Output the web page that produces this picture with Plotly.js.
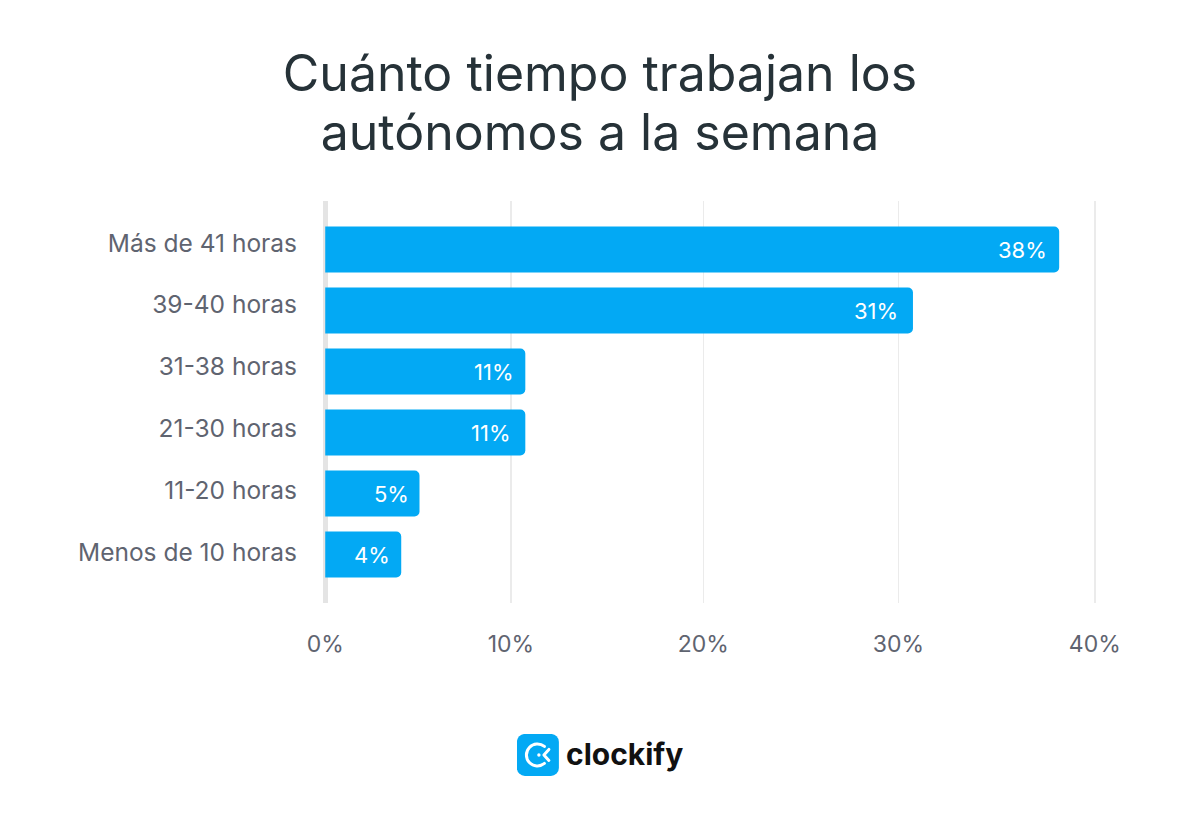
<!DOCTYPE html>
<html><head><meta charset="utf-8">
<script src="https://cdn.plot.ly/plotly-3.0.1.min.js"></script>
<style>html,body{margin:0;padding:0;background:#fff}#c{width:1200px;height:832px}</style></head>
<body><div id="c"></div>
<script>
const categories = ["Más de 41 horas","39-40 horas","31-38 horas","21-30 horas","11-20 horas","Menos de 10 horas"];
const barValues = [38.15,30.55,10.4,10.4,4.9,3.95];
const barLabels = ["38%","31%","11%","11%","5%","4%"];
const labelInset = [10,13,9,12,9,9];
const xTickVals = [0,9.65,19.65,29.8,40];
const xTickText = ["0%","10%","20%","30%","40%"];
const yTickVals = [-0.107,0.9,1.92,2.93,3.95,4.97];

const icon = "data:image/svg+xml;utf8," + encodeURIComponent(
 '<svg xmlns="http://www.w3.org/2000/svg" viewBox="0 0 42 42"><rect width="42" height="42" rx="8" fill="#03a9f4"/>'+
 '<path d="M27.5 12.5 A11 11 0 1 0 27.5 29.5" fill="none" stroke="#fff" stroke-width="3" stroke-linecap="round"/>'+
 '<path d="M32 15.5 L27 21 L32 26.5" fill="none" stroke="#fff" stroke-width="3" stroke-linecap="round" stroke-linejoin="round"/>'+
 '<circle cx="22" cy="21" r="1.7" fill="#fff"/></svg>');

const annotations = barValues.map((v,i)=>({
  x:v, y:i+0.005, xref:'x', yref:'y', text:barLabels[i], showarrow:false,
  xanchor:'right', yanchor:'middle', xshift:-labelInset[i],
  font:{family:'Inter',size:22,color:'#ffffff'}
}));
annotations.push({x:0.3191,y:-0.375,xref:'paper',yref:'paper',yanchor:'middle',xanchor:'left',showarrow:false,
  text:'<b>clockify</b>',font:{family:'Inter',size:30,color:'#111111'}});

Plotly.newPlot('c',[{
  type:'bar',orientation:'h',y:categories,x:barValues,
  marker:{color:'#03a9f4',line:{width:0}},hoverinfo:'skip'
}],{
  width:1200,height:832,autosize:false,
  paper_bgcolor:'#fff',plot_bgcolor:'#fff',
  showlegend:false,
  title:{text:'Cuánto tiempo trabajan los<br>autónomos a la semana',
    font:{family:'Inter',size:50,color:'#263238'},x:0.5,xanchor:'center',y:0.8906,yanchor:'middle'},
  margin:{l:306.3,r:86.3,t:201,b:229,pad:0},
  bargap:0.246,barcornerradius:5,
  xaxis:{range:[-1,41],tickmode:'array',tickvals:xTickVals,ticktext:xTickText,
    showgrid:true,gridcolor:'#ebebeb',gridwidth:1.5,zeroline:true,zerolinecolor:'#e4e4e4',zerolinewidth:5,
    showline:false,ticks:'',ticklabelstandoff:25,
    tickfont:{family:'Inter',size:23,color:'#5f6470'}},
  yaxis:{type:'category',categoryorder:'array',categoryarray:categories,range:[5.795,-0.795],
    tickmode:'array',tickvals:yTickVals,ticktext:categories,
    showgrid:false,zeroline:false,showline:false,ticks:'',ticklabelstandoff:8,
    tickfont:{family:'Inter',size:24.5,color:'#5f6470'}},
  annotations,
  images:[{source:icon,xref:'paper',yref:'paper',x:0.261,y:-0.378,sizex:0.052,sizey:0.1045,xanchor:'left',yanchor:'middle',sizing:'contain',layer:'above'}]
},{displayModeBar:false,staticPlot:true}).then(()=>{
  const lines=document.querySelectorAll('.gtitle tspan.line');
  if(lines.length>1) lines[1].setAttribute('dy','59px');
});
</script></body></html>
